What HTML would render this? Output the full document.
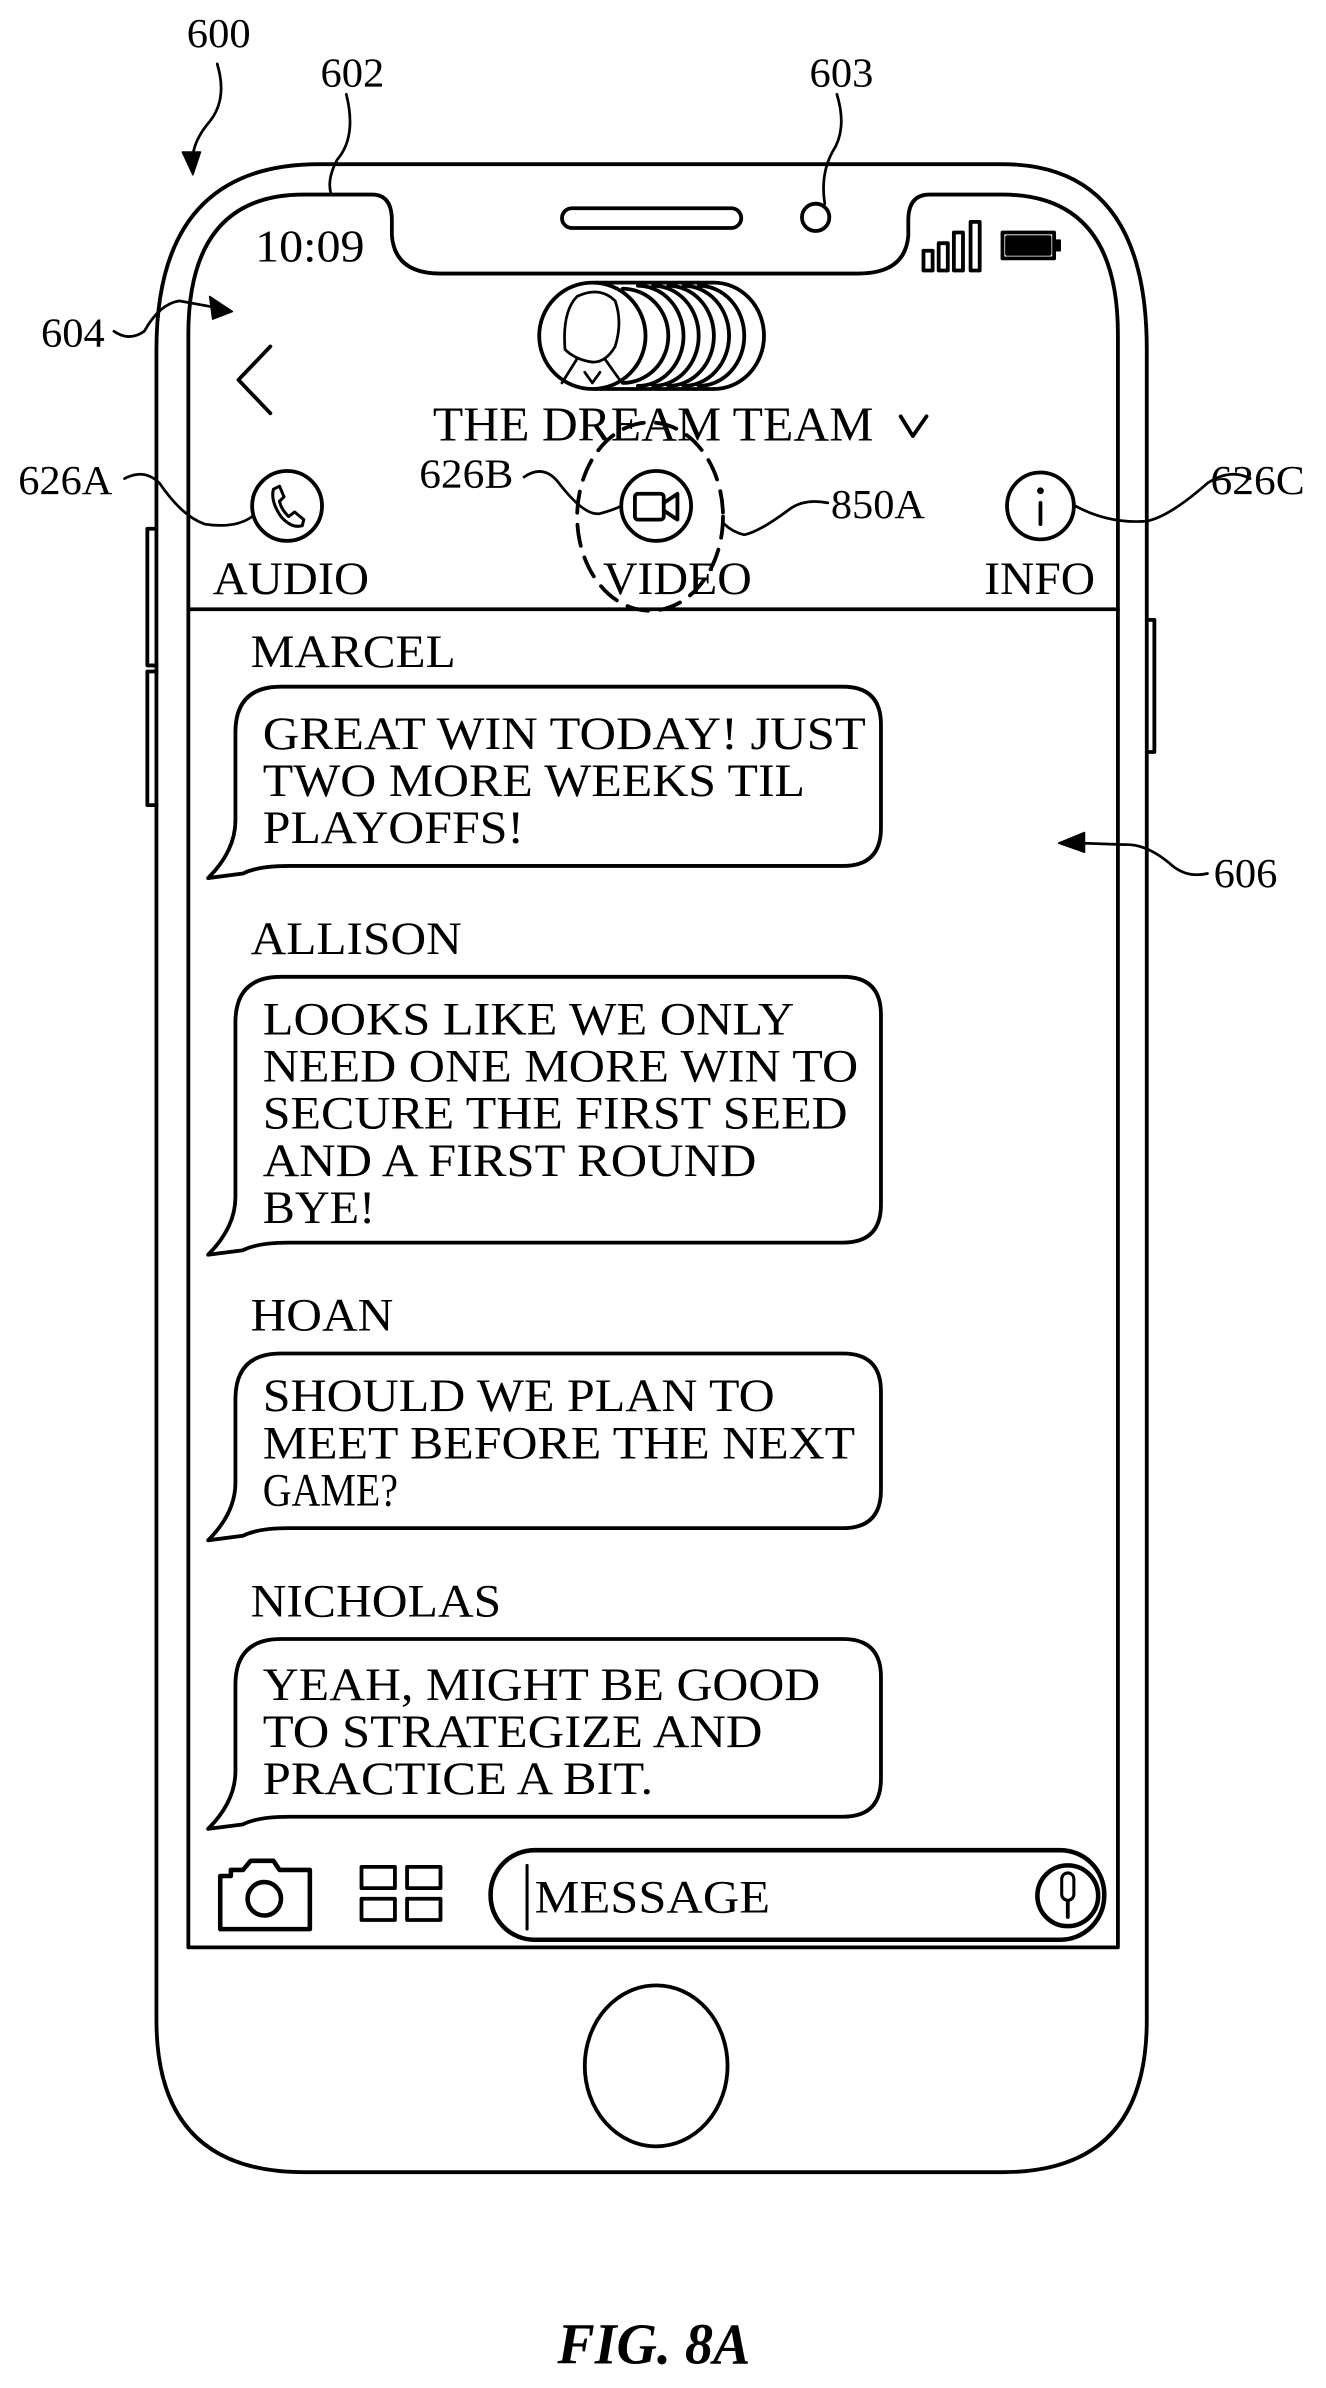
<!DOCTYPE html>
<html><head><meta charset="utf-8"><style>
html,body{margin:0;padding:0;background:#fff;}
svg{display:block;}
text{font-family:"Liberation Serif",serif;fill:#000;}
</style></head><body>
<svg width="1326" height="2388" viewBox="0 0 873 1572" xmlns="http://www.w3.org/2000/svg">
<g fill="none" stroke="#000" stroke-width="2.5" stroke-linecap="round" stroke-linejoin="round">
<path d="M210,108 L660,108 Q755,108 755,230 L755,1330 Q755,1430 660,1430 L200,1430 Q103,1430 103,1330 L103,230 Q103,108 210,108 Z"/>
<path d="M103,348 L97,348 L97,438 L103,438 M103,442 L97,442 L97,530 L103,530"/>
<path d="M755,408 L760,408 L760,495 L755,495"/>
<path d="M124,1282 L124,220 Q124,128 200,128 L245,128 Q258,128 258,145 L258,155 Q260,180 290,180 L565,180 Q596,180 598,155 L598,145 Q598,128 612,128 L660,128 Q736,128 736,220 L736,1282 Z"/>
<line x1="124" y1="401" x2="736" y2="401"/>
<rect x="370" y="137" width="118" height="13" rx="6.5"/>
<circle cx="537" cy="143" r="9"/>
<rect x="608" y="165" width="6" height="13"/><rect x="618" y="160" width="6" height="18"/><rect x="628" y="153" width="6" height="25"/><rect x="639" y="146" width="6" height="32"/>
<rect x="660" y="153" width="34" height="17"/>
<rect x="663" y="156" width="28" height="11" fill="#000"/>
<rect x="694" y="158" width="4" height="7" fill="#000" stroke-width="1"/>
<path d="M178,228 L157,250 L178,272"/>
<path d="M392,186 L470,186 A33,35 0 0 1 470,256 L392,256"/>
<path d="M410,190 A30,31 0 0 1 410,252 M420,188 A30,33 0 0 1 420,254 M430,188 A30,33 0 0 1 430,254 M440,188 A30,33 0 0 1 440,254 M450,188 A30,33 0 0 1 450,254 M460,188 A30,33 0 0 1 460,254"/>
<ellipse cx="390" cy="221" rx="35" ry="35" fill="#fff"/>
<path d="M372,230 Q370,205 380,195 Q395,188 405,198 Q410,212 405,228 Q398,240 388,238 Q378,236 372,230 M370,252 L380,236 M408,250 L398,236 M385,245 L390,252 L395,245" stroke-width="1.8"/>
<path d="M593,274 L601,287 L610,274"/>
<circle cx="189" cy="333" r="23"/>
<path d="M180,322 Q178,330 185,340 Q192,348 199,346 L200,342 L194,337 L190,340 Q185,335 184,330 L187,327 L184,320 Z" stroke-width="2"/>
<circle cx="432" cy="333" r="23"/>
<rect x="418" y="325" width="19" height="17" rx="2"/><path d="M437,331 L446,325 L446,342 L437,336"/>
<circle cx="685" cy="333" r="22"/>
<line x1="685" y1="331" x2="685" y2="345"/><circle cx="685" cy="323" r="1" fill="#000"/>
<ellipse cx="428" cy="340" rx="48" ry="62" stroke-dasharray="14,8"/>
<path d="M185,452 L555,452 Q580,452 580,477 L580,545 Q580,570 555,570 L190,570 Q170,570 160,575 L137,578 Q155,560 155,540 L155,482 Q155,452 185,452 Z"/>
<path d="M185,643 L555,643 Q580,643 580,668 L580,793 Q580,818 555,818 L190,818 Q170,818 160,823 L137,826 Q155,808 155,788 L155,673 Q155,643 185,643 Z"/>
<path d="M185,891 L555,891 Q580,891 580,916 L580,981 Q580,1006 555,1006 L190,1006 Q170,1006 160,1011 L137,1014 Q155,996 155,976 L155,921 Q155,891 185,891 Z"/>
<path d="M185,1079 L555,1079 Q580,1079 580,1104 L580,1171 Q580,1196 555,1196 L190,1196 Q170,1196 160,1201 L137,1204 Q155,1186 155,1166 L155,1109 Q155,1079 185,1079 Z"/>
<path d="M145,1235 L152,1235 L152,1231 L160,1231 L165,1225 L180,1225 L184,1231 L204,1231 L204,1270 L145,1270 Z" stroke-width="3"/>
<circle cx="174" cy="1250" r="11" stroke-width="3"/>
<rect x="238" y="1229" width="22" height="14"/><rect x="268" y="1229" width="22" height="14"/>
<rect x="238" y="1250" width="22" height="14"/><rect x="268" y="1250" width="22" height="14"/>
<rect x="323" y="1218" width="404" height="59" rx="29" stroke-width="3"/>
<line x1="347" y1="1228" x2="347" y2="1270" stroke-width="2"/>
<circle cx="703" cy="1248" r="20" stroke-width="3"/>
<rect x="699" y="1233" width="8" height="18" rx="4" stroke-width="2"/><line x1="703" y1="1252" x2="703" y2="1262"/>
<ellipse cx="432" cy="1360" rx="47" ry="53"/>
<path d="M143,42 Q150,65 138,80 Q125,95 127,110" stroke-width="1.8"/>
<path d="M120,100 L127,115 L132,100 Z" fill="#000" stroke-width="1"/>
<path d="M228,62 Q235,90 222,105 Q215,118 218,128" stroke-width="1.8"/>
<path d="M551,62 Q558,85 548,100 Q540,115 543,134" stroke-width="1.8"/>
<path d="M75,218 Q85,225 95,218 Q105,200 118,198 L140,202" stroke-width="1.8"/>
<path d="M138,195 L153,205 L140,210 Z" fill="#000" stroke-width="1"/>
<path d="M82,315 Q95,308 105,318 Q120,340 135,345 Q155,348 166,340" stroke-width="1.8"/>
<path d="M345,314 Q358,305 368,318 Q385,340 395,338 Q403,336 409,333" stroke-width="1.8"/>
<path d="M545,331 Q530,328 520,335 Q500,350 490,352 Q482,350 477,345" stroke-width="1.8"/>
<path d="M823,315 Q810,308 795,318 Q770,340 755,343 Q730,345 708,333" stroke-width="1.8"/>
<path d="M795,575 Q782,578 772,570 Q755,555 740,556 L712,555" stroke-width="1.8"/>
<path d="M714,548 L697,555 L714,561 Z" fill="#000" stroke-width="1"/>
</g>
<g font-size="27">
<text x="123" y="31" textLength="42" lengthAdjust="spacingAndGlyphs">600</text>
<text x="211" y="57" textLength="42" lengthAdjust="spacingAndGlyphs">602</text>
<text x="533" y="57" textLength="42" lengthAdjust="spacingAndGlyphs">603</text>
<text x="27" y="228" textLength="42" lengthAdjust="spacingAndGlyphs">604</text>
<text x="12" y="325" textLength="62" lengthAdjust="spacingAndGlyphs">626A</text>
<text x="276" y="321" textLength="62" lengthAdjust="spacingAndGlyphs">626B</text>
<text x="547" y="341" textLength="62" lengthAdjust="spacingAndGlyphs">850A</text>
<text x="797" y="325" textLength="62" lengthAdjust="spacingAndGlyphs">626C</text>
<text x="799" y="584" textLength="42" lengthAdjust="spacingAndGlyphs">606</text>
</g>
<text x="168" y="172" font-size="30" textLength="72" lengthAdjust="spacingAndGlyphs">10:09</text>
<text x="285" y="290" font-size="32" textLength="290" lengthAdjust="spacingAndGlyphs">THE DREAM TEAM</text>
<g font-size="31">
<text x="140" y="391" textLength="103" lengthAdjust="spacingAndGlyphs">AUDIO</text>
<text x="397" y="391" textLength="98" lengthAdjust="spacingAndGlyphs">VIDEO</text>
<text x="648" y="391" textLength="73" lengthAdjust="spacingAndGlyphs">INFO</text>
<text x="165" y="439" textLength="135" lengthAdjust="spacingAndGlyphs">MARCEL</text>
<text x="165" y="628" textLength="139" lengthAdjust="spacingAndGlyphs">ALLISON</text>
<text x="165" y="876" textLength="94" lengthAdjust="spacingAndGlyphs">HOAN</text>
<text x="165" y="1064" textLength="165" lengthAdjust="spacingAndGlyphs">NICHOLAS</text>
<text x="173" y="493" textLength="397" lengthAdjust="spacingAndGlyphs">GREAT WIN TODAY! JUST</text>
<text x="173" y="524" textLength="357" lengthAdjust="spacingAndGlyphs">TWO MORE WEEKS TIL</text>
<text x="173" y="555" textLength="172" lengthAdjust="spacingAndGlyphs">PLAYOFFS!</text>
<text x="173" y="681" textLength="350" lengthAdjust="spacingAndGlyphs">LOOKS LIKE WE ONLY</text>
<text x="173" y="712" textLength="392" lengthAdjust="spacingAndGlyphs">NEED ONE MORE WIN TO</text>
<text x="173" y="743" textLength="385" lengthAdjust="spacingAndGlyphs">SECURE THE FIRST SEED</text>
<text x="173" y="774" textLength="325" lengthAdjust="spacingAndGlyphs">AND A FIRST ROUND</text>
<text x="173" y="805" textLength="74" lengthAdjust="spacingAndGlyphs">BYE!</text>
<text x="173" y="929" textLength="337" lengthAdjust="spacingAndGlyphs">SHOULD WE PLAN TO</text>
<text x="173" y="960" textLength="390" lengthAdjust="spacingAndGlyphs">MEET BEFORE THE NEXT</text>
<text x="173" y="991" textLength="89" lengthAdjust="spacingAndGlyphs">GAME?</text>
<text x="173" y="1119" textLength="367" lengthAdjust="spacingAndGlyphs">YEAH, MIGHT BE GOOD</text>
<text x="173" y="1150" textLength="329" lengthAdjust="spacingAndGlyphs">TO STRATEGIZE AND</text>
<text x="173" y="1181" textLength="257" lengthAdjust="spacingAndGlyphs">PRACTICE A BIT.</text>
<text x="352" y="1259" textLength="155" lengthAdjust="spacingAndGlyphs">MESSAGE</text>
</g>
<text x="367" y="1556" font-size="38" font-weight="bold" font-style="italic" textLength="127" lengthAdjust="spacingAndGlyphs">FIG. 8A</text>
</svg>
</body></html>
